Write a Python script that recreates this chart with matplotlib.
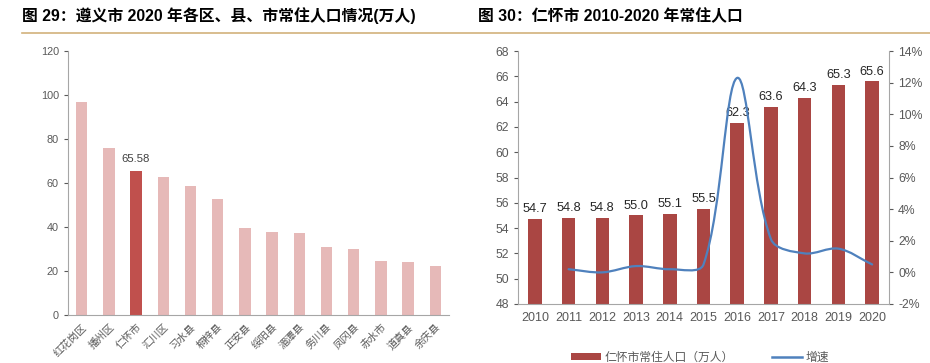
"""Zunyi districts population 2020 and Renhuai population 2010-2020."""

import math

import matplotlib

matplotlib.use("Agg")
import matplotlib.pyplot as plt
from matplotlib.lines import Line2D
from matplotlib.patches import Patch, PathPatch
from matplotlib.path import Path
from matplotlib.ticker import FuncFormatter

plt.rcParams["font.family"] = ["Liberation Sans", "Noto Sans CJK SC"]

# left chart: 2020 resident population by district / county (10k people)
districts = ["红花岗区", "播州区", "仁怀市", "汇川区", "习水县", "桐梓县", "正安县",
             "绥阳县", "湄潭县", "务川县", "凤冈县", "赤水市", "道真县", "余庆县"]
district_pop = [97.0, 76.0, 65.58, 62.6, 58.6, 52.7, 39.5,
                37.7, 37.1, 30.8, 30.0, 24.4, 24.2, 22.4]
highlight = "仁怀市"

# right chart: Renhuai 2010-2020
years = ["2010", "2011", "2012", "2013", "2014", "2015",
         "2016", "2017", "2018", "2019", "2020"]
renhuai_pop = [54.7, 54.8, 54.8, 55.0, 55.1, 55.5, 62.3, 63.6, 64.3, 65.3, 65.6]
growth_pct = [0.2, 0.0, 0.4, 0.2, 0.5, 12.3, 2.1, 1.2, 1.5, 0.5]  # 2011-2020

GREY = "#595959"
SPINE = "#A6A6A6"


def smooth_path(ax, xs, ys):
    # Excel-like smoothed line: bezier handles scaled by neighbouring segment
    # lengths measured on screen, so short segments don't overshoot
    data = list(zip(xs, ys))
    scr = [tuple(ax.transData.transform(p)) for p in data]
    n = len(data)

    def handles(i):
        p0 = scr[max(i - 1, 0)]
        p1 = scr[i]
        p2 = scr[min(i + 1, n - 1)]
        d01 = math.dist(p0, p1)
        d12 = math.dist(p1, p2)
        tx, ty = p2[0] - p0[0], p2[1] - p0[1]
        tot = d01 + d12 or 1.0
        back = (p1[0] - tx * d01 / tot / 3, p1[1] - ty * d01 / tot / 3)
        fwd = (p1[0] + tx * d12 / tot / 3, p1[1] + ty * d12 / tot / 3)
        return back, fwd

    inv = ax.transData.inverted()
    verts = [data[0]]
    codes = [Path.MOVETO]
    for i in range(n - 1):
        c1 = handles(i)[1]
        c2 = handles(i + 1)[0]
        verts += [tuple(inv.transform(c1)), tuple(inv.transform(c2)), data[i + 1]]
        codes += [Path.CURVE4] * 3
    return Path(verts, codes)


fig = plt.figure(figsize=(9.3, 3.63), dpi=100)

# titles + gold rule
fig.text(22 / 930, 1 - 16 / 363, "图 29：遵义市 2020 年各区、县、市常住人口情况(万人)",
         fontsize=11.4, fontweight="bold", va="center", ha="left", color="black")
fig.text(478 / 930, 1 - 16 / 363, "图 30：仁怀市 2010-2020 年常住人口",
         fontsize=11.4, fontweight="bold", va="center", ha="left", color="black")
fig.add_artist(Line2D([22 / 930, 1.0], [1 - 33 / 363] * 2, color="#D2B27C", lw=1.2,
                      transform=fig.transFigure))

# ---- left chart
ax1 = fig.add_axes([68 / 930, 1 - 315 / 363, (449 - 68) / 930, (315 - 51) / 363])
xs = list(range(len(districts)))
colors = ["#C0504D" if d == highlight else "#E6B9B8" for d in districts]
ax1.bar(xs, district_pop, width=0.42, color=colors)
hi = districts.index(highlight)
ax1.text(hi, district_pop[hi] + 3, f"{district_pop[hi]:.2f}", ha="center", va="bottom",
         fontsize=8.2, color="#404040")
ax1.set_xlim(-0.5, len(districts) - 0.5)
ax1.set_ylim(0, 120)
ax1.set_yticks(range(0, 121, 20))
ax1.set_xticks(xs)
ax1.set_xticklabels(districts, rotation=45, ha="right", rotation_mode="anchor")
ax1.tick_params(axis="y", labelsize=7.8, colors=GREY, length=3, width=0.8)
ax1.tick_params(axis="x", labelsize=7.5, colors=GREY, length=0, pad=5)
for s in ["top", "right"]:
    ax1.spines[s].set_visible(False)
for s in ["left", "bottom"]:
    ax1.spines[s].set_color(SPINE)

# ---- right chart
ax2 = fig.add_axes([518 / 930, 1 - 304 / 363, (889 - 518) / 930, (304 - 51) / 363])
yx = list(range(len(years)))
ax2.bar(yx, renhuai_pop, width=0.4, color="#AA4643")
for x, v in zip(yx, renhuai_pop):
    ax2.text(x, v + 0.3, f"{v:.1f}", ha="center", va="bottom", fontsize=9.2, color="#262626")
ax2.set_xlim(-0.5, len(years) - 0.5)
ax2.set_ylim(48, 68)
ax2.set_yticks(range(48, 69, 2))
ax2.set_xticks(yx)
ax2.set_xticklabels(years)
ax2.tick_params(axis="y", labelsize=8.8, colors=GREY, length=3, width=0.8)
ax2.tick_params(axis="x", labelsize=9, colors=GREY, length=0, pad=6)
ax2.spines["top"].set_visible(False)
ax2.spines["right"].set_visible(False)
for s in ["left", "bottom"]:
    ax2.spines[s].set_color(SPINE)

ax3 = ax2.twinx()
ax3.set_xlim(-0.5, len(years) - 0.5)
ax3.set_ylim(-2, 14)
ax3.set_yticks(range(-2, 15, 2))
ax3.yaxis.set_major_formatter(FuncFormatter(lambda v, _: f"{v:.0f}%"))
ax3.tick_params(axis="y", labelsize=8.8, colors=GREY, length=3, width=0.8)
for s in ["top", "left", "bottom"]:
    ax3.spines[s].set_visible(False)
ax3.spines["right"].set_color(SPINE)
gx = yx[1:]
ax3.add_patch(PathPatch(smooth_path(ax3, gx, growth_pct), fill=False, edgecolor="#4F81BD",
                        lw=1.6, capstyle="round", joinstyle="round"))

handles = [Patch(facecolor="#AA4643", label="仁怀市常住人口（万人）"),
           Line2D([], [], color="#4F81BD", lw=1.8, label="增速")]
fig.legend(handles=handles, loc="center", bbox_to_anchor=(700 / 930, 1 - 358 / 363),
           ncol=2, frameon=False, fontsize=8.5, handlelength=2.6, handleheight=0.5,
           handletextpad=0.3, columnspacing=3.2, labelcolor=GREY)

fig.savefig("out.png", dpi=100)
